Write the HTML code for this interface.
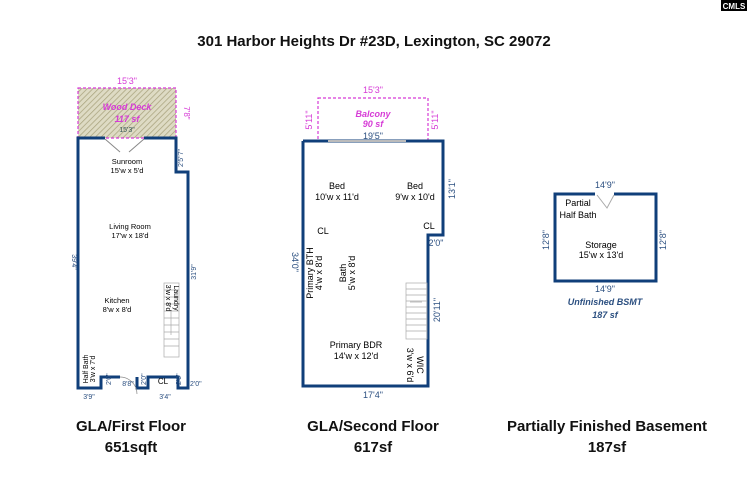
<!DOCTYPE html><html><head><style>body{margin:0;background:#fff}svg{display:block}text{font-family:"Liberation Sans",sans-serif}</style></head><body>
<svg width="747" height="480" viewBox="0 0 747 480" xmlns="http://www.w3.org/2000/svg">
<defs><pattern id="h" width="4" height="4" patternUnits="userSpaceOnUse" patternTransform="rotate(45)"><rect width="4" height="4" fill="#dedbc4"/><line x1="0" y1="0" x2="0" y2="4" stroke="#a9a37e" stroke-width="1.5"/></pattern></defs>
<rect x="721" y="0" width="26" height="11" fill="#000"/><text x="734" y="9" font-size="8" fill="#fff" text-anchor="middle" font-weight="bold">CMLS</text>
<text x="374" y="46" font-size="15" font-weight="bold" text-anchor="middle" fill="#111">301 Harbor Heights Dr #23D, Lexington, SC 29072</text>
<!-- first floor -->
<rect x="78" y="88" width="98" height="50" fill="url(#h)" stroke="#d63bd6" stroke-dasharray="3,2" stroke-width="1.2"/>
<text x="127" y="84" font-size="9" fill="#d63bd6" text-anchor="middle">15'3"</text>
<text x="127" y="110" font-size="9" font-weight="bold" font-style="italic" fill="#d63bd6" text-anchor="middle">Wood Deck</text>
<text x="127" y="122" font-size="9" font-weight="bold" font-style="italic" fill="#d63bd6" text-anchor="middle">117 sf</text>
<text x="127" y="132" font-size="7" fill="#355" text-anchor="middle">15'3"</text>
<text x="184" y="113" font-size="8" fill="#d63bd6" transform="rotate(90 184 113)" text-anchor="middle">7'8"</text>
<polyline points="105,138 78,138 78,388 101,388 101,377 120,377" fill="none" stroke="#103f7a" stroke-width="3"/>
<polyline points="137,377 137,388 148,388 148,377 178,377 178,388 188,388 188,172 176,172 176,138 144,138" fill="none" stroke="#103f7a" stroke-width="3"/>
<path d="M105,139 L120,152 M144,139 L129,152" stroke="#888" stroke-width="1"/>
<text x="127" y="164" font-size="7.5" text-anchor="middle">Sunroom</text><text x="127" y="173" font-size="7.5" text-anchor="middle">15'w x 5'd</text>
<text x="130" y="229" font-size="7.5" text-anchor="middle">Living Room</text><text x="130" y="238" font-size="7.5" text-anchor="middle">17'w x 18'd</text>
<text x="117" y="303" font-size="7.5" text-anchor="middle">Kitchen</text><text x="117" y="312" font-size="7.5" text-anchor="middle">8'w x 8'd</text>
<g stroke="#aaa" stroke-width="0.7"><rect x="164" y="283" width="15" height="74" fill="none"/>
<path d="M164,290h15M164,297h15M164,304h15M164,311h15M164,318h15M164,325h15M164,332h15M164,339h15M164,346h15M171,310v25"/></g>
<text x="166" y="298" font-size="7" transform="rotate(90 166 298)" text-anchor="middle">3'w x 8'd</text>
<text x="174" y="298" font-size="7" transform="rotate(90 174 298)" text-anchor="middle">Laundry</text>
<text x="88" y="369" font-size="7" transform="rotate(-90 88 369)" text-anchor="middle">Half Bath</text>
<text x="95" y="369" font-size="7" transform="rotate(-90 95 369)" text-anchor="middle">3'w x 7'd</text>
<text x="163" y="384" font-size="8" text-anchor="middle">CL</text>
<path d="M120,377 A17,17 0 0 1 137,394" fill="none" stroke="#888" stroke-width="0.7"/>
<g font-size="7" fill="#2b4f80"><text x="89" y="399" text-anchor="middle">3'9"</text><text x="165" y="399" text-anchor="middle">3'4"</text>
<text x="128" y="386" text-anchor="middle">8'8"</text><text x="190" y="386">2'0"</text>
<text x="72" y="262" transform="rotate(90 72 262)" text-anchor="middle">39'4"</text>
<text x="196" y="272" transform="rotate(-90 196 272)" text-anchor="middle">31'9"</text>
<text x="183" y="158" transform="rotate(-90 183 158)" text-anchor="middle">2'5"7"</text>
<text x="111" y="385" transform="rotate(-90 111 385)">2'0"</text><text x="146" y="385" transform="rotate(-90 146 385)">2'0"</text><text x="181" y="385" transform="rotate(-90 181 385)">2'0"</text></g>
<!-- second floor -->
<rect x="318" y="98" width="110" height="43" fill="none" stroke="#d63bd6" stroke-dasharray="3,2" stroke-width="1.2"/>
<text x="373" y="93" font-size="9" fill="#d63bd6" text-anchor="middle">15'3"</text>
<text x="373" y="117" font-size="9" font-weight="bold" font-style="italic" fill="#d63bd6" text-anchor="middle">Balcony</text>
<text x="373" y="127" font-size="9" font-weight="bold" font-style="italic" fill="#d63bd6" text-anchor="middle">90 sf</text>
<text x="312" y="120" font-size="9" fill="#d63bd6" transform="rotate(-90 312 120)" text-anchor="middle">5'11"</text>
<text x="438" y="120" font-size="9" fill="#d63bd6" transform="rotate(-90 438 120)" text-anchor="middle">5'11"</text>
<polyline points="303,141 443,141 443,235 428,235 428,386 303,386 303,141" fill="none" stroke="#103f7a" stroke-width="3"/>
<path d="M328,141h78" stroke="#bbb" stroke-width="2"/>
<text x="373" y="139" font-size="9" fill="#2b4f80" text-anchor="middle">19'5"</text>
<g font-size="9"><text x="337" y="189" text-anchor="middle">Bed</text><text x="337" y="200" text-anchor="middle">10'w x 11'd</text>
<text x="415" y="189" text-anchor="middle">Bed</text><text x="415" y="200" text-anchor="middle">9'w x 10'd</text>
<text x="323" y="234" text-anchor="middle">CL</text><text x="429" y="229" text-anchor="middle">CL</text>
<text x="313" y="273" transform="rotate(-90 313 273)" text-anchor="middle">Primary BTH</text>
<text x="322" y="273" transform="rotate(-90 322 273)" text-anchor="middle">4'w x 8'd</text>
<text x="346" y="273" transform="rotate(-90 346 273)" text-anchor="middle">Bath</text>
<text x="355" y="273" transform="rotate(-90 355 273)" text-anchor="middle">5'w x 8'd</text>
<text x="356" y="348" text-anchor="middle">Primary BDR</text><text x="356" y="359" text-anchor="middle">14'w x 12'd</text>
<text x="407" y="365" transform="rotate(90 407 365)" text-anchor="middle">3'w x 6'd</text>
<text x="417" y="365" transform="rotate(90 417 365)" text-anchor="middle">WIC</text></g>
<g stroke="#aaa" stroke-width="0.7"><rect x="406" y="283" width="21" height="56" fill="none"/>
<path d="M406,289h21M406,295h21M406,301h21M406,307h21M406,313h21M406,319h21M406,325h21M406,331h21M410,302h12"/></g>
<g font-size="9" fill="#2b4f80"><text x="373" y="398" text-anchor="middle">17'4"</text>
<text x="292" y="262" transform="rotate(90 292 262)" text-anchor="middle">34'0"</text>
<text x="455" y="189" transform="rotate(-90 455 189)" text-anchor="middle">13'1"</text>
<text x="436" y="246" text-anchor="middle">2'0"</text>
<text x="440" y="310" transform="rotate(-90 440 310)" text-anchor="middle">20'11"</text></g>
<!-- basement -->
<polyline points="595,194 555,194 555,281 656,281 656,194 614,194" fill="none" stroke="#103f7a" stroke-width="3"/>
<path d="M597,195 L607,208 L614,195" stroke="#aaa" fill="none"/>
<g font-size="9"><text x="578" y="206" text-anchor="middle">Partial</text><text x="578" y="218" text-anchor="middle">Half Bath</text>
<text x="601" y="248" text-anchor="middle">Storage</text><text x="601" y="258" text-anchor="middle">15'w x 13'd</text></g>
<g font-size="9" fill="#2b4f80"><text x="605" y="188" text-anchor="middle">14'9"</text><text x="605" y="292" text-anchor="middle">14'9"</text>
<text x="549" y="240" transform="rotate(-90 549 240)" text-anchor="middle">12'8"</text>
<text x="666" y="240" transform="rotate(-90 666 240)" text-anchor="middle">12'8"</text>
<text x="605" y="305" font-weight="bold" font-style="italic" text-anchor="middle">Unfinished BSMT</text>
<text x="605" y="318" font-weight="bold" font-style="italic" text-anchor="middle">187 sf</text></g>
<g font-size="15" font-weight="bold" fill="#111" text-anchor="middle">
<text x="131" y="431">GLA/First Floor</text><text x="131" y="452">651sqft</text>
<text x="373" y="431">GLA/Second Floor</text><text x="373" y="452">617sf</text>
<text x="607" y="431">Partially Finished Basement</text><text x="607" y="452">187sf</text></g>
</svg></body></html>
